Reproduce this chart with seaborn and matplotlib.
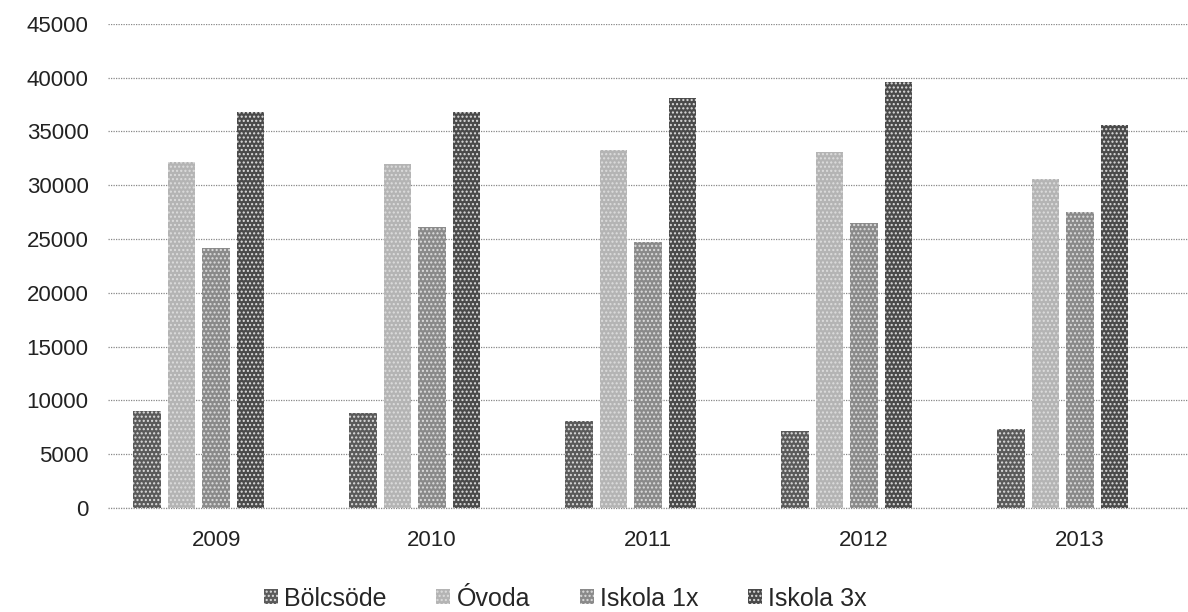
import pandas as pd
import numpy as np
import seaborn as sns
import matplotlib.pyplot as plt
from matplotlib.patches import Patch

years = ["2009", "2010", "2011", "2012", "2013"]
series = ["Bölcsöde", "Óvoda", "Iskola 1x", "Iskola 3x"]
bolcsode = [9000, 8850, 8100, 7200, 7300]
ovoda = [32200, 32000, 33300, 33100, 30600]
iskola_1x = [24200, 26100, 24700, 26500, 27500]
iskola_3x = [36800, 36800, 38100, 39600, 35600]

colors = ["#5a5a5a", "#b4b4b4", "#8a8a8a", "#4a4a4a"]

rows = []
for name, vals in zip(series, [bolcsode, ovoda, iskola_1x, iskola_3x]):
    for y, v in zip(years, vals):
        rows.append({"year": y, "series": name, "value": v})
# empty fifth slot, like the original spreadsheet chart
for y in years:
    rows.append({"year": y, "series": "_empty", "value": np.nan})
df = pd.DataFrame(rows)

sns.set_theme(style="white")
plt.rcParams["font.family"] = ["Liberation Sans", "DejaVu Sans"]

fig = plt.figure(figsize=(11.88, 6.12), dpi=100)
ax = fig.add_axes([0.091, 0.170, 0.909, 0.791])

palette = dict(zip(series, colors))
palette["_empty"] = "white"
sns.barplot(data=df, x="year", y="value", hue="series",
            hue_order=series + ["_empty"], palette=palette,
            width=0.8, gap=0.2, legend=False, ax=ax, saturation=1)

for cont, c in zip(ax.containers, colors):
    for bar in cont:
        bar.set_hatch("....")
        bar.set_edgecolor("#dddddd")
        bar.set_linewidth(0)

ax.set_ylim(0, 45000)
ax.set_xlim(-0.5, 4.5)
ax.set_yticks(range(0, 45001, 5000))
ax.yaxis.grid(True, linestyle=(0, (1, 1)), color="#888888", linewidth=0.9)
ax.set_axisbelow(True)
for s in ax.spines.values():
    s.set_visible(False)
ax.axhline(0, color="#888888", linestyle=(0, (1, 1)), linewidth=0.9, clip_on=False, zorder=0)
ax.set_xlabel("")
ax.set_ylabel("")
ax.tick_params(axis="both", labelsize=16, length=0, colors="#222222")
ax.tick_params(axis="y", pad=14)
ax.tick_params(axis="x", pad=16)

handles = [Patch(facecolor=c, edgecolor="#dddddd", hatch="....", linewidth=0) for c in colors]
fig.legend(handles, series, loc="center", bbox_to_anchor=(0.476, 0.022), ncol=4,
           frameon=False, fontsize=18, handlelength=0.55, handleheight=0.55,
           handletextpad=0.25, columnspacing=2.0)

fig.savefig("out.png", dpi=100)
